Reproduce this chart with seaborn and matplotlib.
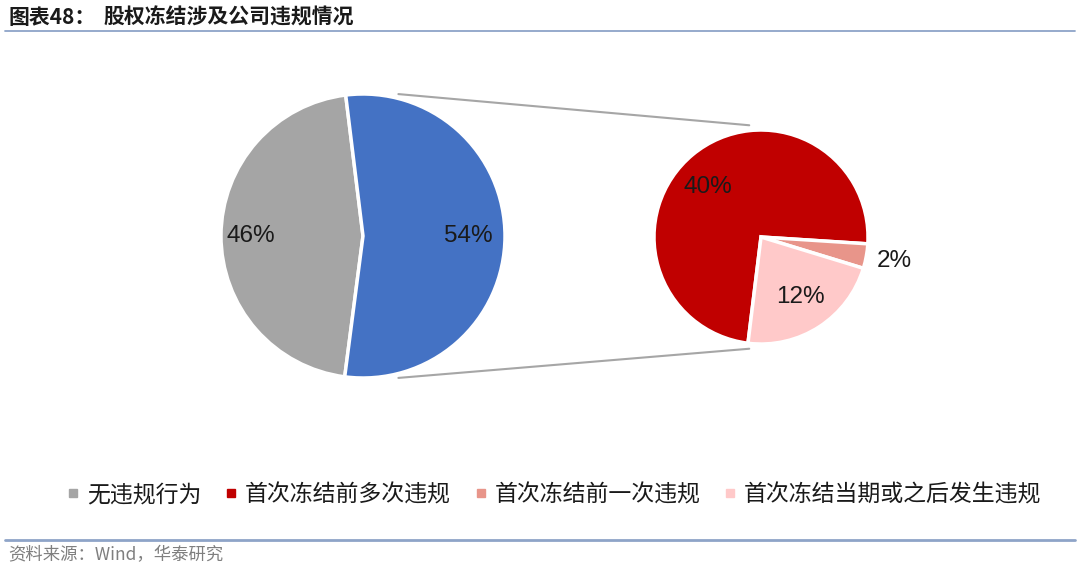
import numpy as np
import matplotlib
matplotlib.use("Agg")
import matplotlib.pyplot as plt
from matplotlib.lines import Line2D
import seaborn as sns

# data
overview_labels = ['无违规行为', '存在违规']
overview_values = [46, 54]
detail_labels = ['首次冻结前多次违规', '首次冻结前一次违规', '首次冻结当期或之后发生违规']
detail_values = [40, 2, 12]

overview_colors = ['#A5A5A5', '#4472C4']
detail_colors = ['#C00000', '#E8958A', '#FFC9C9']

sns.set_theme(style='white')
plt.rcParams['font.family'] = ['Noto Sans CJK SC', 'DejaVu Sans']

W, H = 1080, 570
fig = plt.figure(figsize=(W / 100, H / 100), dpi=100)
ax = fig.add_axes([0, 0, 1, 1])

# pie geometry in pixel units (y up)
c1, r1 = (363, H - 236), 142
c2, r2 = (761, H - 237), 107

w1, _ = ax.pie(overview_values, colors=overview_colors, center=c1, radius=r1,
               startangle=97, counterclock=True,
               wedgeprops=dict(edgecolor='white', linewidth=2.5))
w2, _ = ax.pie(detail_values, colors=detail_colors, center=c2, radius=r2,
               startangle=263, counterclock=False, explode=[0, 0.04, 0.04],
               wedgeprops=dict(edgecolor='white', linewidth=2.5))


def place_labels(wedges, values, radius, dists, shift=0):
    for w, v, d in zip(wedges, values, dists):
        mid = np.deg2rad((w.theta1 + w.theta2) / 2 + shift)
        cx, cy = w.center
        ax.text(cx + d * radius * np.cos(mid), cy + d * radius * np.sin(mid),
                f'{v}%', ha='center', va='center', fontsize=17.5,
                family=['Liberation Sans', 'DejaVu Sans'], color='#1a1a1a')


place_labels(w1, overview_values, r1, [0.79, 0.74])
place_labels(w2[:1], detail_values[:1], r2, [0.68], shift=7)
place_labels(w2[1:], detail_values[1:], r2, [1.27, 0.67])

# connector lines between the "other" slice and the detail pie
for sgn in (1, -1):
    a1 = np.deg2rad(76 * sgn)
    a2 = np.deg2rad(96 * sgn)
    ax.plot([c1[0] + 1.03 * r1 * np.cos(a1), c2[0] + 1.05 * r2 * np.cos(a2)],
            [c1[1] + 1.03 * r1 * np.sin(a1), c2[1] + 1.05 * r2 * np.sin(a2)],
            color='#A6A6A6', lw=1.5, zorder=0)

ax.set_xlim(0, W)
ax.set_ylim(0, H)
ax.set_aspect('equal')
ax.axis('off')

# legend
handles = [Line2D([], [], marker='s', ls='', color=c, markersize=6)
           for c in overview_colors[:1] + detail_colors]
fig.legend(handles, overview_labels[:1] + detail_labels, loc='center',
           bbox_to_anchor=(554 / W, 1 - 495 / H), ncol=4, frameon=False,
           fontsize=16.5, handlelength=0.6, handletextpad=0.3,
           columnspacing=1.0, labelcolor='#1a1a1a')

# title and source
fig.text(8 / W, 1 - 17 / H, '图表48：', fontsize=15, fontweight='bold',
         color='#1a1a1a', va='center', ha='left')
fig.text(103 / W, 1 - 17 / H, '股权冻结涉及公司违规情况', fontsize=15,
         fontweight='bold', color='#1a1a1a', va='center', ha='left')
fig.add_artist(Line2D([5 / W, 1075 / W], [1 - 31 / H] * 2, color='#8EA4C8', lw=1.3))
fig.add_artist(Line2D([5 / W, 1075 / W], [1 - 540 / H] * 2, color='#8EA4C8', lw=2))
fig.text(8 / W, 1 - 555 / H, '资料来源：Wind，华泰研究', fontsize=12.5,
         color='#7F7F7F', va='center', ha='left')

fig.savefig('out.png', dpi=100, facecolor='white')
